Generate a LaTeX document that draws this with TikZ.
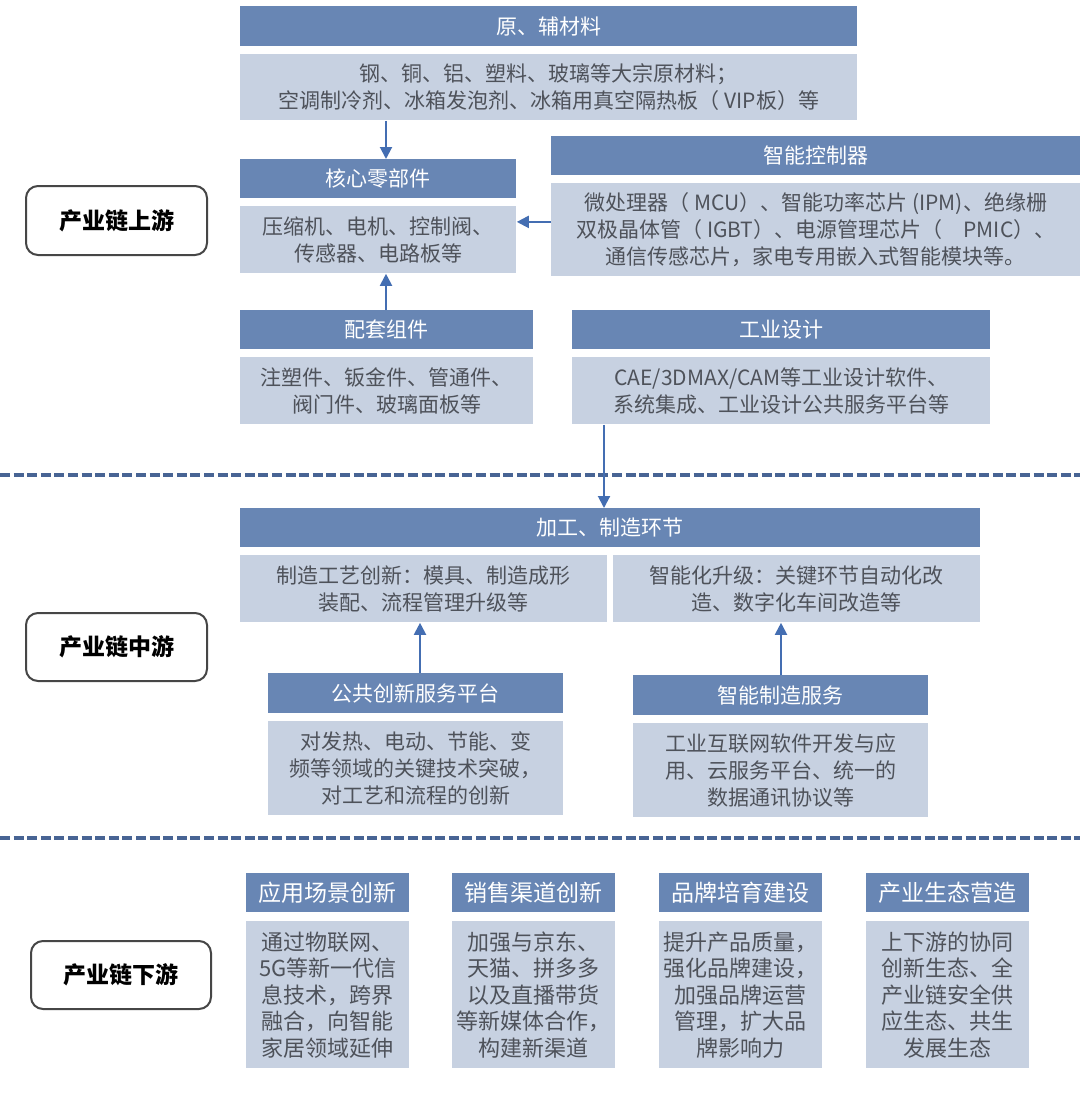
\documentclass[tikz,border=0pt]{standalone}
\usepackage{fontspec}
\setmainfont{Noto Sans CJK SC}
\usepackage{tikz}
\usetikzlibrary{arrows.meta}
\definecolor{headc}{RGB}{104,134,180}
\definecolor{bodyc}{RGB}{199,209,225}
\definecolor{textc}{RGB}{78,82,90}
\definecolor{arrowc}{RGB}{68,110,178}
\definecolor{sepc}{RGB}{72,100,148}
\definecolor{framec}{RGB}{70,70,70}

\begin{document}
\begin{tikzpicture}[x=0.5pt,y=-0.5pt,
    head/.style={fill=headc,text=white,anchor=north west,inner sep=0pt,minimum height=19.5pt,font=\fontsize{10.5}{13.5}\selectfont},
    body/.style={fill=bodyc,text=textc,anchor=north west,inner sep=0pt,align=center,font=\fontsize{10.5}{13.5}\selectfont},
    tier/.style={draw=framec,line width=1pt,rounded corners=6pt,anchor=north west,inner sep=0pt,font=\bfseries\fontsize{11.5}{14}\selectfont},
    arr/.style={arrowc,line width=1pt,-{Triangle[length=6pt,width=6pt]}},
    sep/.style={sepc,line width=1.6pt,dash pattern=on 5pt off 1.8pt}]
			% page
			\fill[white] (0,0) rectangle (1080,1097);
			\useasboundingbox (0,0) rectangle (1080,1097);
			% tier labels
			\node[tier,minimum width=90.5pt,minimum height=34.5pt] (up) at (25,185) {产业链上游};
			\node[tier,minimum width=90.5pt,minimum height=34pt] (mid) at (25,612) {产业链中游};
			\node[tier,minimum width=90pt,minimum height=34pt] (down) at (30,940) {产业链下游};
			% upstream
			\node[head,minimum width=308.5pt,minimum height=20pt] (rawh) at (240,6) {原、辅材料};
			\node[body,minimum width=308.5pt,minimum height=33pt] (rawb) at (240,54) {钢、铜、铝、塑料、玻璃等大宗原材料；\\空调制冷剂、冰箱发泡剂、冰箱用真空隔热板（ VIP板）等};
			\node[head,minimum width=138pt] (coreh) at (240,159) {核心零部件};
			\node[body,minimum width=138pt,minimum height=33.5pt] (coreb) at (240,206) {压缩机、电机、控制阀、\\传感器、电路板等};
			\node[head,minimum width=264.5pt] (ctrlh) at (551,136) {智能控制器};
			\node[body,minimum width=264.5pt,minimum height=46.5pt] (ctrlb) at (551,183) {微处理器（ MCU）、智能功率芯片 (IPM)、绝缘栅\\双极晶体管（ IGBT）、电源管理芯片（\quad PMIC）、\\通信传感芯片，家电专用嵌入式智能模块等。};
			\node[head,minimum width=146.5pt] (kith) at (240,310) {配套组件};
			\node[body,minimum width=146.5pt,minimum height=33.5pt] (kitb) at (240,357) {注塑件、钣金件、管通件、\\阀门件、玻璃面板等};
			\node[head,minimum width=209pt] (desh) at (572,310) {工业设计};
			\node[body,minimum width=209pt,minimum height=33.5pt] (desb) at (572,357) {CAE/3DMAX/CAM等工业设计软件、\\系统集成、工业设计公共服务平台等};
			\draw[arr] ([xshift=73pt]rawb.south west) -- ([xshift=73pt]coreh.north west);
			\draw[arr] ([yshift=4pt]ctrlb.west) -- ([yshift=4pt]ctrlb.west -| coreb.east);
			\draw[arr] ([xshift=73pt]kith.north west) -- ([xshift=73pt]coreb.south west);
			% separator
			\draw[sep] (0,475) -- (1080,475);
			% midstream
			\node[head,minimum width=370pt] (mfgh) at (240,508) {加工、制造环节};
			\node[body,minimum width=183.5pt,minimum height=33.5pt] (mfgl) at (240,555) {制造工艺创新：模具、制造成形\\装配、流程管理升级等};
			\node[body,minimum width=183.5pt,minimum height=33.5pt] (mfgr) at (613,555) {智能化升级：关键环节自动化改\\造、数字化车间改造等};
			\draw[arr] ([xshift=16pt]desb.south west) -- ([xshift=16pt]desb.south west |- mfgh.north);
			\node[head,minimum width=147.5pt,minimum height=20pt] (pubh) at (268,673) {公共创新服务平台};
			\node[body,minimum width=147.5pt,minimum height=47pt] (pubb) at (268,721) {对发热、电动、节能、变\\频等领域的关键技术突破，\\对工艺和流程的创新};
			\node[head,minimum width=147.5pt,minimum height=20pt] (smh) at (633,675) {智能制造服务};
			\node[body,minimum width=147.5pt,minimum height=47pt] (smb) at (633,723) {工业互联网软件开发与应\\用、云服务平台、统一的\\数据通讯协议等};
			\draw[arr] ([xshift=76pt]pubh.north west) -- ([xshift=76pt]pubh.north west |- mfgl.south);
			\draw[arr] ([xshift=74pt]smh.north west) -- ([xshift=74pt]smh.north west |- mfgr.south);
			% separator
			\draw[sep] (0,838) -- (1080,838);
			% downstream
			\foreach \x/\nm/\hd/\bd in {246/scn/应用场景创新/{通过物联网、\\5G等新一代信\\息技术，跨界\\融合，向智能\\家居领域延伸},
			  452/chn/销售渠道创新/{加强与京东、\\天猫、拼多多\\以及直播带货\\等新媒体合作，\\构建新渠道},
			  659/brd/品牌培育建设/{提升产品质量，\\强化品牌建设，\\加强品牌运营\\管理，扩大品\\牌影响力},
			  866/eco/产业生态营造/{上下游的协同\\创新生态、全\\产业链安全供\\应生态、共生\\发展生态}}{
			  \node[head,minimum width=81.5pt,font=\fontsize{11.5}{14}\selectfont] (\nm h) at (\x,873) {\hd};
			  \node[body,minimum width=81.5pt,minimum height=73.5pt,font=\fontsize{11}{13.25}\selectfont] (\nm b) at (\x,921) {\bd};
			}
		\end{tikzpicture}
\end{document}
